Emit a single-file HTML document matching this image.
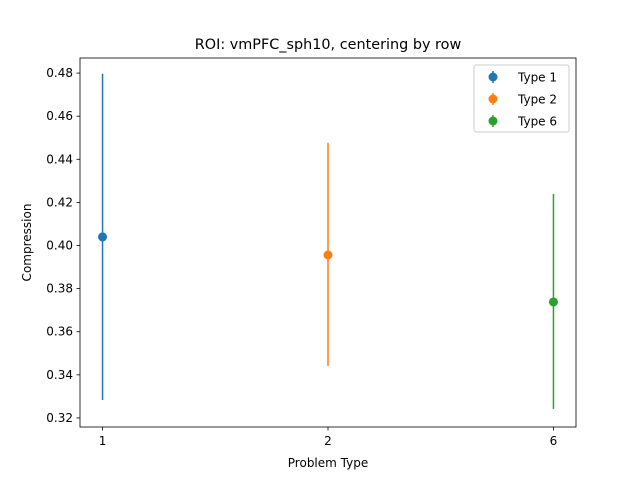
<!DOCTYPE html>
<html><head><meta charset="utf-8"><style>
body{margin:0;background:#fff}
svg{display:block;font-family:"DejaVu Sans","Liberation Sans",sans-serif}
</style></head><body>
<svg id="chart" width="640" height="480">
<rect width="640" height="480" fill="#fff"/>
<text x="328" y="49" font-size="14.4" text-anchor="middle">ROI: vmPFC_sph10, centering by row</text>
<g id="plot"></g>
<rect x="80" y="58" width="496" height="369" fill="none" stroke="#000" stroke-width="0.8"/>
<text x="328" y="467" font-size="12" text-anchor="middle">Problem Type</text>
<text transform="translate(31,242.5) rotate(-90)" font-size="12" text-anchor="middle">Compression</text>
<g>
<rect x="474" y="65" width="95" height="67" rx="2" fill="#fff" fill-opacity="0.8" stroke="#ccc"/>
<g id="legend-items"></g>
</g>
</svg>
<script>
const categories=["1","2","6"];
const labels=["Type 1","Type 2","Type 6"];
const means=[0.404,0.3956,0.3738];
const errLow=[0.3283,0.3441,0.3242];
const errHigh=[0.4797,0.4476,0.4239];
const colors=["#1f77b4","#ff7f0e","#2ca02c"];
const yTicks=[0.32,0.34,0.36,0.38,0.40,0.42,0.44,0.46,0.48];
const NS="http://www.w3.org/2000/svg";
const X0=80,X1=576,Y0=427,Y1=58,xmin=-0.1,xmax=2.1,ymin=0.3158,ymax=0.487;
const xs=i=>X0+(i-xmin)/(xmax-xmin)*(X1-X0);
const ys=v=>Y0-(v-ymin)/(ymax-ymin)*(Y0-Y1);
const plot=document.getElementById('plot');
function mk(tag,attrs,parent){const e=document.createElementNS(NS,tag);for(const k in attrs)e.setAttribute(k,attrs[k]);(parent||plot).appendChild(e);return e;}
yTicks.forEach(t=>{const y=ys(t);
const l=mk('line',{x1:X0-3.5,x2:X0,y1:y,y2:y,stroke:'#000','stroke-width':0.8});


const tx=mk('text',{x:X0-7,y:y+4,'font-size':12,'text-anchor':'end'});tx.textContent=t.toFixed(2);

});
categories.forEach((c,i)=>{const x=xs(i);
const l=mk('line',{x1:x,x2:x,y1:Y0,y2:Y0+3.5,stroke:'#000','stroke-width':0.8});


const tx=mk('text',{x:x,y:Y0+18,'font-size':12,'text-anchor':'middle'});tx.textContent=c;


const eb=mk('line',{x1:x,x2:x,y1:ys(errHigh[i]),y2:ys(errLow[i]),stroke:colors[i],'stroke-width':1.5});


const p=mk('circle',{cx:x,cy:ys(means[i]),r:4.5,fill:colors[i]});

});
const lg=document.getElementById('legend-items');
labels.forEach((lab,i)=>{const y=77+i*22;
const g=mk('g',{},lg);


mk('line',{x1:493,x2:493,y1:y-6,y2:y+6,stroke:colors[i],'stroke-width':1.5},g);
mk('circle',{cx:493,cy:y,r:4.5,fill:colors[i]},g);
const t=mk('text',{x:518,y:y+4.5,'font-size':12},g);t.textContent=lab;});
</script>
</body></html>
